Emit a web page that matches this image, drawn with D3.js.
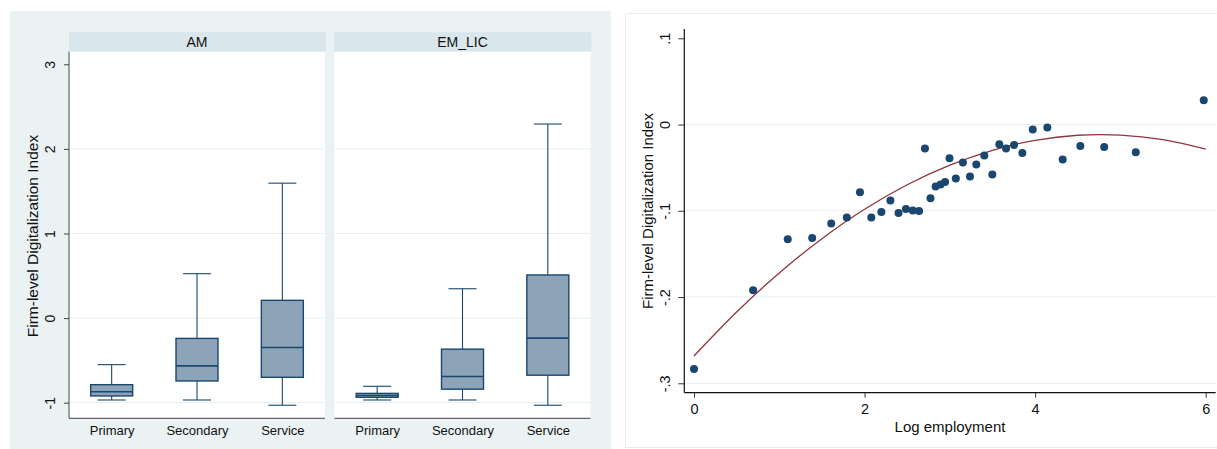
<!DOCTYPE html>
<html>
<head>
<meta charset="utf-8">
<script src="https://cdn.jsdelivr.net/npm/d3@7"></script>
<style>
  html, body { margin: 0; padding: 0; background: #ffffff; }
  svg { display: block; font-family: "Liberation Sans", Arial, sans-serif; }
</style>
</head>
<body>
<svg id="chart" width="1217" height="449"></svg>
<script>
// ---- Box plot data: digitalization index by sector, per country group ----
const groups = ["AM", "EM_LIC"];
const categories = ["Primary", "Secondary", "Service"];

const amLower  = [-0.968, -0.968, -1.03];
const amQ1     = [-0.92,  -0.743, -0.70];
const amMedian = [-0.87,  -0.565, -0.348];
const amQ3     = [-0.787, -0.24,   0.21];
const amUpper  = [-0.55,   0.525,  1.595];

const emLower  = [-0.968, -0.968, -1.03];
const emQ1     = [-0.936, -0.84,  -0.675];
const emMedian = [-0.915, -0.69,  -0.237];
const emQ3     = [-0.89,  -0.367,  0.51];
const emUpper  = [-0.806,  0.347,  2.294];

const boxTicks = [-1, 0, 1, 2, 3];

// ---- Binned scatter: log employment vs. digitalization index ----
const logEmp = [0, 0.693, 1.099, 1.386, 1.609, 1.792, 1.946, 2.079, 2.197, 2.303,
                2.398, 2.485, 2.565, 2.639, 2.708, 2.773, 2.833, 2.89, 2.944, 2.996,
                3.07, 3.153, 3.236, 3.31, 3.404, 3.498, 3.58, 3.659, 3.753, 3.85,
                3.972, 4.143, 4.323, 4.53, 4.81, 5.18, 5.977];
const digIndex = [-0.2834, -0.192, -0.133, -0.1315, -0.1148, -0.1078, -0.0785, -0.1078, -0.1013, -0.0881,
                  -0.1025, -0.0978, -0.0997, -0.1001, -0.0278, -0.0854, -0.0719, -0.0696, -0.0665, -0.039,
                  -0.0626, -0.0441, -0.0603, -0.0464, -0.036, -0.058, -0.0228, -0.0278, -0.0236, -0.0329,
                  -0.0058, -0.0035, -0.0406, -0.0248, -0.026, -0.0321, 0.0282];

// Quadratic fit line, sampled along the x range
const fitX = [0, 0.5, 1, 1.5, 2, 2.5, 3, 3.5, 4, 4.5, 5, 5.5, 6];
const fitY = [-0.2683, -0.2173, -0.1720, -0.1323, -0.0982, -0.0698, -0.0470,
              -0.0298, -0.0183, -0.0124, -0.0122, -0.0176, -0.0286];

const scatterXTicks = [0, 2, 4, 6];
const scatterYTicks = [-0.3, -0.2, -0.1, 0, 0.1];

// ---- Styles ----
const navy = "#1a476f";
const boxFill = "#8da3b7";
const maroon = "#90353b";
const gridColor = "#e6eef1";

const svg = d3.select("#chart");

// =================== Left: box plots ===================
const left = svg.append("g");
left.append("rect").attr("x", 10).attr("y", 11).attr("width", 601).attr("height", 438)
  .attr("fill", "#eaf2f3");

const yL = d3.scaleLinear().domain([-1, 3]).range([402.7, 64.3]);
const plotTop = 51.7, plotBottom = 418.3, panelW = 256;
const panelX = d3.scalePoint().domain(groups).range([69, 334.5]);
const xCat = d3.scalePoint().domain(categories).range([0, panelW]).padding(0.5);
const boxW = 42, capW = 28;

const groupStats = {
  AM: { lo: amLower, q1: amQ1, med: amMedian, q3: amQ3, hi: amUpper },
  EM_LIC: { lo: emLower, q1: emQ1, med: emMedian, q3: emQ3, hi: emUpper }
};

groups.forEach(grp => {
  const x0 = panelX(grp);
  const g = left.append("g").attr("transform", `translate(${x0},0)`);

  // facet strip
  g.append("rect").attr("x", 0).attr("y", 32.3).attr("width", panelW + 1)
    .attr("height", plotTop - 32.3).attr("fill", "#d9e6eb");
  g.append("text").attr("x", panelW / 2).attr("y", 46.5).attr("text-anchor", "middle")
    .attr("font-size", 14).attr("fill", "#111").text(grp);

  // plot region
  g.append("rect").attr("x", 0).attr("y", plotTop).attr("width", panelW)
    .attr("height", plotBottom - plotTop).attr("fill", "#ffffff");

  // gridlines
  g.selectAll("line.grid").data(boxTicks.filter(t => t < 3)).join("line")
    .attr("x1", 0).attr("x2", panelW)
    .attr("y1", d => yL(d)).attr("y2", d => yL(d))
    .attr("stroke", gridColor).attr("stroke-width", 1);

  const s = groupStats[grp];
  categories.forEach((cat, i) => {
    const cx = xCat(cat);
    const bg = g.append("g");
    // whiskers
    bg.append("line").attr("x1", cx).attr("x2", cx).attr("y1", yL(s.hi[i])).attr("y2", yL(s.q3[i]))
      .attr("stroke", navy).attr("stroke-width", 1.1);
    bg.append("line").attr("x1", cx).attr("x2", cx).attr("y1", yL(s.q1[i])).attr("y2", yL(s.lo[i]))
      .attr("stroke", navy).attr("stroke-width", 1.1);
    [s.hi[i], s.lo[i]].forEach(v => {
      bg.append("line").attr("x1", cx - capW / 2).attr("x2", cx + capW / 2)
        .attr("y1", yL(v)).attr("y2", yL(v)).attr("stroke", navy).attr("stroke-width", 1.1);
    });
    // box
    bg.append("rect").attr("x", cx - boxW / 2).attr("width", boxW)
      .attr("y", yL(s.q3[i])).attr("height", yL(s.q1[i]) - yL(s.q3[i]))
      .attr("fill", boxFill).attr("stroke", navy).attr("stroke-width", 1.4);
    bg.append("line").attr("x1", cx - boxW / 2).attr("x2", cx + boxW / 2)
      .attr("y1", yL(s.med[i])).attr("y2", yL(s.med[i]))
      .attr("stroke", navy).attr("stroke-width", 1.6);
  });

  // x axis
  g.append("line").attr("x1", 0).attr("x2", panelW).attr("y1", plotBottom).attr("y2", plotBottom)
    .attr("stroke", "#666").attr("stroke-width", 1.2);
  const xa = g.append("g").attr("transform", `translate(0,${plotBottom})`)
    .call(d3.axisBottom(xCat).tickSize(0).tickPadding(0));
  xa.select(".domain").remove();
  xa.selectAll("text").attr("y", 17).attr("dy", 0).attr("font-size", 13)
    .attr("font-family", "Liberation Sans, Arial, sans-serif").attr("fill", "#111");
});

// y axis (left panel only)
left.append("line").attr("x1", 69).attr("x2", 69).attr("y1", plotTop).attr("y2", plotBottom)
  .attr("stroke", "#666").attr("stroke-width", 1.2);
const yaL = left.append("g").attr("transform", "translate(69,0)")
  .call(d3.axisLeft(yL).tickValues(boxTicks).tickSize(5).tickFormat(d3.format("d")));
yaL.select(".domain").remove();
yaL.selectAll(".tick line").attr("stroke", "#444");
yaL.selectAll("text").attr("transform", "rotate(-90)").attr("x", 0).attr("y", -14.5)
  .attr("dy", 0).attr("text-anchor", "middle").attr("font-size", 14)
  .attr("font-family", "Liberation Sans, Arial, sans-serif").attr("fill", "#111")
  .text(d => d < 0 ? "-" + Math.abs(d) : d);

left.append("text").attr("transform", "translate(33,236) rotate(-90)")
  .attr("text-anchor", "middle").attr("dy", "0.35em").attr("font-size", 15.5).attr("fill", "#111")
  .text("Firm-level Digitalization Index");

// =================== Right: binned scatter with quadratic fit ===================
const right = svg.append("g");
right.append("rect").attr("x", 625.5).attr("y", 13.5).attr("width", 600).attr("height", 434)
  .attr("fill", "#ffffff").attr("stroke", "#e8eef0").attr("stroke-width", 1);

const xR = d3.scaleLinear().domain([0, 6]).range([694, 1205.7]);
const yR = d3.scaleLinear().domain([-0.3, 0.1]).range([383.3, 38.3]);
const axX = 684.3, axTop = 29, axBottom = 392.7, axRight = 1215.7;

right.selectAll("line.grid").data(scatterYTicks.filter(t => t < 0.05)).join("line")
  .attr("x1", axX).attr("x2", axRight)
  .attr("y1", d => yR(d)).attr("y2", d => yR(d))
  .attr("stroke", gridColor).attr("stroke-width", 1);

const fmtDec = d => {
  if (Math.abs(d) < 1e-9) return "0";
  const s = d3.format(".1f")(Math.abs(d)).replace(/^0/, "");
  return (d < 0 ? "-" : "") + s;
};

// fit line
right.append("path")
  .datum(fitX.map((x, i) => [x, fitY[i]]))
  .attr("d", d3.line().x(d => xR(d[0])).y(d => yR(d[1])).curve(d3.curveCatmullRom))
  .attr("fill", "none").attr("stroke", maroon).attr("stroke-width", 1.3);

// points
right.selectAll("circle").data(logEmp.map((x, i) => [x, digIndex[i]])).join("circle")
  .attr("cx", d => xR(d[0])).attr("cy", d => yR(d[1])).attr("r", 4)
  .attr("fill", navy);

// axes
right.append("line").attr("x1", axX).attr("x2", axX).attr("y1", axTop).attr("y2", axBottom)
  .attr("stroke", "#111").attr("stroke-width", 1.2);
right.append("line").attr("x1", axX).attr("x2", axRight).attr("y1", axBottom).attr("y2", axBottom)
  .attr("stroke", "#111").attr("stroke-width", 1.2);

const yaR = right.append("g").attr("transform", `translate(${axX},0)`)
  .call(d3.axisLeft(yR).tickValues(scatterYTicks).tickSize(6).tickFormat(fmtDec));
yaR.select(".domain").remove();
yaR.selectAll(".tick line").attr("stroke", "#333");
yaR.selectAll("text").attr("transform", "rotate(-90)").attr("x", 0).attr("y", -14)
  .attr("dy", 0).attr("text-anchor", "middle").attr("font-size", 14.5)
  .attr("font-family", "Liberation Sans, Arial, sans-serif").attr("fill", "#111");

const xaR = right.append("g").attr("transform", `translate(0,${axBottom})`)
  .call(d3.axisBottom(xR).tickValues(scatterXTicks).tickSize(5).tickFormat(d3.format("d")));
xaR.select(".domain").remove();
xaR.selectAll(".tick line").attr("stroke", "#333");
xaR.selectAll("text").attr("y", 21).attr("dy", 0).attr("font-size", 14.5)
  .attr("font-family", "Liberation Sans, Arial, sans-serif").attr("fill", "#111");

right.append("text").attr("x", 950).attr("y", 432).attr("text-anchor", "middle")
  .attr("font-size", 15).attr("fill", "#111").text("Log employment");

right.append("text").attr("transform", "translate(648,211) rotate(-90)")
  .attr("text-anchor", "middle").attr("dy", "0.35em").attr("font-size", 15).attr("fill", "#111")
  .text("Firm-level Digitalization Index");
</script>
</body>
</html>
